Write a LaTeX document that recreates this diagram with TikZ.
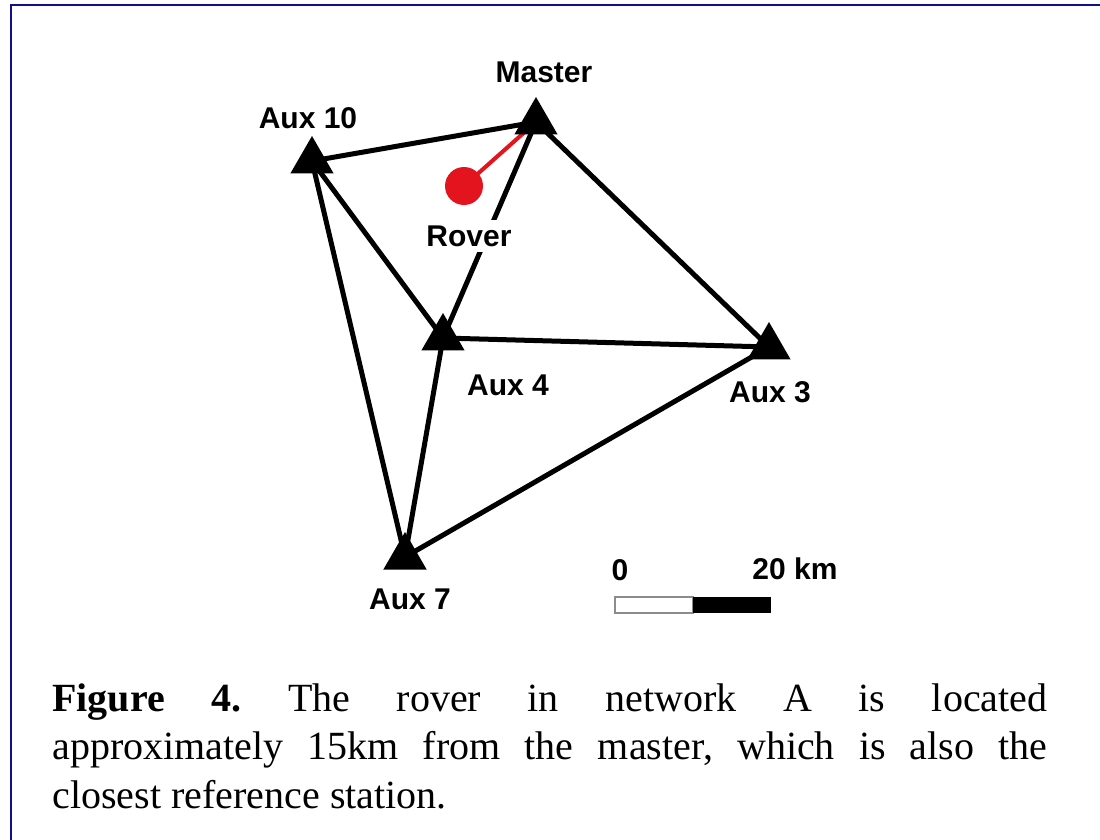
\documentclass[tikz,border=0pt]{standalone}
\usepackage{fontspec}
\setmainfont{Liberation Serif}
\newfontfamily\mapfont{Liberation Sans}
\usepackage{xcolor}
\usetikzlibrary{shapes.geometric,backgrounds}
\definecolor{Ink}{HTML}{000000}
\definecolor{Frame}{HTML}{10108C}
\definecolor{RoverRed}{HTML}{E3141E}
\definecolor{BarEdge}{HTML}{8C8C8C}
\tikzset{
  station/.style={regular polygon,regular polygon sides=3,fill=Ink,minimum size=25pt,inner sep=0pt},
  roverdot/.style={circle,fill=RoverRed,minimum size=19pt,inner sep=0pt},
  lbl/.style={font=\mapfont\bfseries\fontsize{15}{18}\selectfont,text=Ink,inner sep=3pt},
  netline/.style={draw=Ink,line width=2.5pt},
  roverline/.style={draw=RoverRed,line width=2pt},
  frameline/.style={draw=Frame,line width=1.2pt}
}
\frenchspacing

\begin{document}
\begin{tikzpicture}[x=0.5pt,y=-0.5pt]
  \useasboundingbox (0,0) rectangle (1100,840);
  \node[station] (master) at (536,122) {};
  \node[station] (aux10) at (312,161) {};
  \node[station] (aux4) at (443,338) {};
  \node[station] (aux3) at (769,347) {};
  \node[station] (aux7) at (405,557) {};
  \node[roverdot] (rover) at (464,186) {};
  \node[lbl] (masterlbl) at (544,72) {Master};
  \node[lbl] (aux10lbl) at (308,118) {Aux 10};
  \node[lbl,fill=white] (roverlbl) at (469,236) {Rover};
  \node[lbl] (aux4lbl) at (508,385) {Aux 4};
  \node[lbl] (aux3lbl) at (770,392) {Aux 3};
  \node[lbl] (aux7lbl) at (410,599) {Aux 7};
  \node[lbl] (zerolbl) at (620,570) {0};
  \node[lbl] (kmlbl) at (795,569) {20 km};
  \draw[BarEdge,fill=white,line width=0.6pt] (615,597) rectangle (693,613);
  \fill[Ink] (693,597) rectangle (771,613);
  \node[anchor=base west,inner sep=0pt,text width=497.5pt,align=justify,font=\fontsize{20}{24.3}\selectfont] (caption) at (52,711)
    {\textbf{Figure 4.} The rover in network A is located\linebreak approximately 15km from the master, which is also the\linebreak closest reference station.};
  \draw[frameline] (11,840) -- (11,5) -- (1100,5);
  \begin{scope}[on background layer]
    \fill[white] (0,0) rectangle (1100,840);
    \draw[netline] (aux10.center) -- (master.center);
    \draw[netline] (aux10.center) -- (aux4.center);
    \draw[netline] (aux10.center) -- (aux7.center);
    \draw[netline] (master.center) -- (aux4.center);
    \draw[netline] (master.center) -- (aux3.center);
    \draw[netline] (aux4.center) -- (aux3.center);
    \draw[netline] (aux4.center) -- (aux7.center);
    \draw[netline] (aux7.center) -- (aux3.center);
    \draw[roverline] (rover.center) -- (master.center);
  \end{scope}
\end{tikzpicture}
\end{document}
